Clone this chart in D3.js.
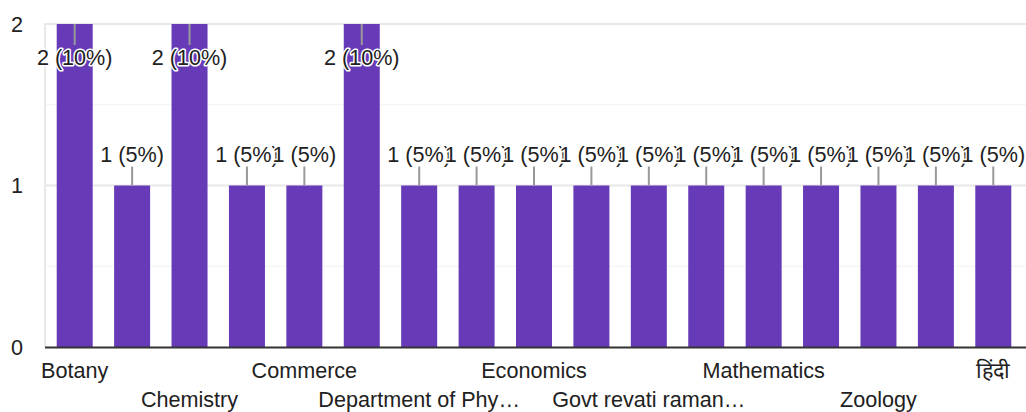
<!DOCTYPE html>
<html>
<head>
<meta charset="utf-8">
<script src="https://cdn.jsdelivr.net/npm/d3@7"></script>
<style>
  html, body { margin: 0; padding: 0; background: #fff; }
  svg { display: block; font-family: "Liberation Sans", Arial, sans-serif; }
</style>
</head>
<body>
<svg id="chart" width="1026" height="412"></svg>
<script>
// ---- data ----
const categories = [
  "Botany", "Chemical sciences", "Chemistry", "Civil", "Commerce",
  "Computer Science", "Department of Physics", "Department of Zoology",
  "Economics", "English", "Govt revati raman mishra college", "Hindi",
  "Mathematics", "Physics", "Zoology", "Zoology department", "हिंदी"
];
const counts = [2, 1, 2, 1, 1, 2, 1, 1, 1, 1, 1, 1, 1, 1, 1, 1, 1];
const yTicks = [0, 1, 2];
const yMinorTicks = [0.5, 1.5];

const total = d3.sum(counts);
const svg = d3.select("#chart");
const fs = 21.6;

const x = d3.scaleBand()
  .domain(categories)
  .range([46, 1022])
  .paddingInner(0.373)
  .paddingOuter(0.1865);
const y = d3.scaleLinear().domain([0, 2]).range([347, 24]);

const textColor = "#212121";

// minor gridlines
svg.append("g").selectAll("line").data(yMinorTicks).join("line")
  .attr("x1", 45).attr("x2", 1026)
  .attr("y1", d => y(d)).attr("y2", d => y(d))
  .attr("stroke", "#f2f2f2").attr("stroke-width", 1);
// major gridlines
svg.append("g").selectAll("line").data(yTicks.filter(d => d !== 0)).join("line")
  .attr("x1", 45).attr("x2", 1026)
  .attr("y1", d => y(d)).attr("y2", d => y(d))
  .attr("stroke", "#e8e8e8").attr("stroke-width", 2);
// left vertical line
svg.append("line")
  .attr("x1", 45).attr("x2", 45)
  .attr("y1", y(2) - 1).attr("y2", y(0))
  .attr("stroke", "#e8e8e8").attr("stroke-width", 2);

// y axis labels
svg.append("g").selectAll("text").data(yTicks).join("text")
  .attr("x", 23).attr("y", d => y(d))
  .attr("dy", "0.35em")
  .attr("text-anchor", "end")
  .attr("font-size", fs)
  .attr("fill", textColor)
  .text(d => d);

// bars
svg.append("g").selectAll("rect").data(categories).join("rect")
  .attr("x", d => x(d))
  .attr("width", x.bandwidth())
  .attr("y", (d, i) => y(counts[i]))
  .attr("height", (d, i) => y(0) - y(counts[i]))
  .attr("fill", "#673ab7");

// baseline
svg.append("line")
  .attr("x1", 45).attr("x2", 1026)
  .attr("y1", y(0) + 0.5).attr("y2", y(0) + 0.5)
  .attr("stroke", "#333333").attr("stroke-width", 2);

// data labels
const labelG = svg.append("g");
categories.forEach((c, i) => {
  const v = counts[i];
  const cx = x(c) + x.bandwidth() / 2;
  const top = y(v);
  const inside = top - 45 < y.range()[1];
  const g = labelG.append("g");
  let lineY2, baseY;
  if (inside) { lineY2 = top + 21; baseY = top + 41; }
  else { lineY2 = top - 19; baseY = top - 24; }
  g.append("line")
    .attr("x1", cx).attr("x2", cx)
    .attr("y1", top).attr("y2", lineY2)
    .attr("stroke", "#999999").attr("stroke-width", 2);
  g.append("text")
    .attr("x", cx).attr("y", baseY)
    .attr("text-anchor", "middle")
    .attr("font-size", fs)
    .attr("fill", textColor)
    .attr("stroke", "#ffffff").attr("stroke-width", 3)
    .attr("stroke-linejoin", "round")
    .attr("paint-order", "stroke")
    .text(`${v} (${Math.round(v / total * 100)}%)`);
});

// x axis labels (every other, staggered in two rows)
const trunc = s => s.length > 18 ? s.slice(0, 17) + "…" : s;
svg.append("g").selectAll("text")
  .data(categories.filter((d, i) => i % 2 === 0))
  .join("text")
  .attr("x", d => x(d) + x.bandwidth() / 2)
  .attr("y", (d, k) => k % 2 === 0 ? 378 : 407)
  .attr("text-anchor", "middle")
  .attr("font-size", fs)
  .attr("fill", textColor)
  .text(d => trunc(d));
</script>
</body>
</html>
